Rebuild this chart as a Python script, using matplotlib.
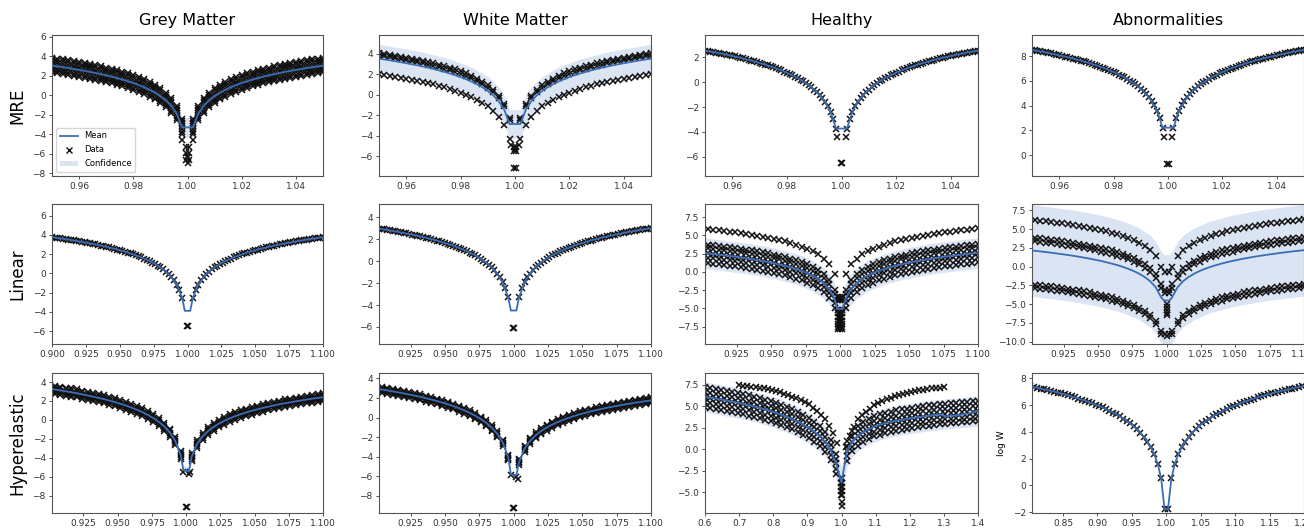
import matplotlib
matplotlib.use("Agg")
import matplotlib.pyplot as plt
from matplotlib.ticker import MultipleLocator
from matplotlib.lines import Line2D
from matplotlib.patches import Patch

plt.rcParams['font.family'] = ['DejaVu Sans']

# ---------------- labels ----------------
COLUMNS = ["Grey Matter", "White Matter", "Healthy", "Abnormalities"]
ROWS = ["MRE", "Linear", "Hyperelastic"]

# ---------------- sample grids: distance of stretch from 1.0 ----------------
D_MRE = [0.002, 0.004, 0.006, 0.008, 0.010, 0.012, 0.014, 0.016, 0.018, 0.020, 0.022, 0.024, 0.026,
         0.028, 0.030, 0.032, 0.034, 0.036, 0.038, 0.040, 0.042, 0.044, 0.046, 0.048, 0.050]
D_MRE_H = [0.003, 0.005, 0.007, 0.009, 0.011, 0.013, 0.015, 0.017, 0.019, 0.021, 0.023, 0.025,
           0.027, 0.029, 0.031, 0.033, 0.035, 0.037, 0.039, 0.041, 0.043, 0.045, 0.047, 0.049]
D_LIN = [0.004, 0.008, 0.012, 0.016, 0.020, 0.024, 0.028, 0.032, 0.036, 0.040, 0.044, 0.048, 0.052,
         0.056, 0.060, 0.064, 0.068, 0.072, 0.076, 0.080, 0.084, 0.088, 0.092, 0.096, 0.100]
D_LIN_H = [0.006, 0.010, 0.014, 0.018, 0.022, 0.026, 0.030, 0.034, 0.038, 0.042, 0.046, 0.050,
           0.054, 0.058, 0.062, 0.066, 0.070, 0.074, 0.078, 0.082, 0.086, 0.090, 0.094, 0.098]
D_HH = [0.016, 0.032, 0.048, 0.064, 0.080, 0.096, 0.112, 0.128, 0.144, 0.160, 0.176, 0.192, 0.208,
        0.224, 0.240, 0.256, 0.272, 0.288, 0.304, 0.320, 0.336, 0.352, 0.368, 0.384, 0.400]
D_HH_TOP = [0.012, 0.024, 0.036, 0.048, 0.060, 0.072, 0.084, 0.096, 0.108, 0.120, 0.132, 0.144, 0.156,
            0.168, 0.180, 0.192, 0.204, 0.216, 0.228, 0.240, 0.252, 0.264, 0.276, 0.288, 0.300]
D_HA = [0.0025, 0.0075, 0.0125, 0.0175, 0.0225, 0.0275, 0.0325, 0.0375, 0.0425, 0.0475,
        0.0525, 0.0575, 0.0625, 0.0675, 0.0725, 0.0775, 0.0825, 0.0875, 0.0925, 0.0975,
        0.1025, 0.1075, 0.1125, 0.1175, 0.1225, 0.1275, 0.1325, 0.1375, 0.1425, 0.1475,
        0.1525, 0.1575, 0.1625, 0.1675, 0.1725, 0.1775, 0.1825, 0.1875, 0.1925, 0.1975]

# ================= MRE row =================
GM_MRE_D1 = [-2.43, -1.08, -0.28, 0.28, 0.71, 1.07, 1.37, 1.63, 1.86, 2.06, 2.25, 2.42, 2.57, 2.72, 2.85, 2.98, 3.10, 3.21, 3.31, 3.41, 3.51, 3.60, 3.69, 3.77, 3.85]
GM_MRE_D2 = [-2.63, -1.28, -0.48, 0.08, 0.51, 0.87, 1.17, 1.43, 1.66, 1.86, 2.05, 2.22, 2.37, 2.52, 2.65, 2.78, 2.90, 3.01, 3.11, 3.21, 3.31, 3.40, 3.49, 3.57, 3.65]
GM_MRE_D3 = [-2.88, -1.53, -0.73, -0.17, 0.26, 0.62, 0.92, 1.18, 1.41, 1.61, 1.80, 1.97, 2.12, 2.27, 2.40, 2.53, 2.65, 2.76, 2.86, 2.96, 3.06, 3.15, 3.24, 3.32, 3.40]
GM_MRE_D4 = [-3.18, -1.83, -1.03, -0.47, -0.04, 0.32, 0.62, 0.88, 1.11, 1.31, 1.50, 1.67, 1.82, 1.97, 2.10, 2.23, 2.35, 2.46, 2.56, 2.66, 2.76, 2.85, 2.94, 3.02, 3.10]
GM_MRE_D5 = [-3.48, -2.13, -1.33, -0.77, -0.34, 0.02, 0.32, 0.58, 0.81, 1.01, 1.20, 1.37, 1.52, 1.67, 1.80, 1.93, 2.05, 2.16, 2.26, 2.36, 2.46, 2.55, 2.64, 2.72, 2.80]
GM_MRE_D6 = [-3.73, -2.38, -1.58, -1.02, -0.59, -0.23, 0.07, 0.33, 0.56, 0.76, 0.95, 1.12, 1.27, 1.42, 1.55, 1.68, 1.80, 1.91, 2.01, 2.11, 2.21, 2.30, 2.39, 2.47, 2.55]
GM_MRE_D7 = [-3.93, -2.58, -1.78, -1.22, -0.79, -0.43, -0.13, 0.13, 0.36, 0.56, 0.75, 0.92, 1.07, 1.22, 1.35, 1.48, 1.60, 1.71, 1.81, 1.91, 2.01, 2.10, 2.19, 2.27, 2.35]
GM_MRE_MEAN = [-3.30, -1.88, -1.08, -0.52, -0.09, 0.27, 0.57, 0.83, 1.06, 1.26, 1.45, 1.62, 1.77, 1.92, 2.05, 2.18, 2.30, 2.41, 2.51, 2.61, 2.71, 2.80, 2.89, 2.97, 3.05]
GM_MRE_CONF_X = [0.95, 0.966, 0.976, 0.984, 0.99, 0.994, 0.996, 0.998, 1.002, 1.004, 1.006, 1.01, 1.016, 1.024, 1.034, 1.05]
GM_MRE_CONF_HI = [3.5, 2.75, 2.07, 1.28, 0.41, -0.48, -1.08, -2.3, -2.3, -1.08, -0.48, 0.41, 1.28, 2.07, 2.75, 3.5]
GM_MRE_CONF_LO = [2.6, 1.85, 1.17, 0.38, -0.59, -1.68, -2.68, -4.3, -4.3, -2.68, -1.68, -0.59, 0.38, 1.17, 1.85, 2.6]
GM_MRE_CX = [0.998, 1.002, 0.9996, 1.0004, 0.9996, 1.0004, 0.9998, 1.0002, 0.9996, 1.0004, 1.0]
GM_MRE_CY = [-4.6, -4.6, -5.3, -5.3, -5.9, -5.9, -6.3, -6.3, -6.7, -6.7, -7.0]

WM_MRE_D1 = [-2.23, -0.88, -0.08, 0.48, 0.91, 1.27, 1.57, 1.83, 2.06, 2.26, 2.45, 2.62, 2.77, 2.92, 3.05, 3.18, 3.30, 3.41, 3.51, 3.61, 3.71, 3.80, 3.89, 3.97, 4.05]
WM_MRE_D2 = [-2.48, -1.13, -0.33, 0.23, 0.66, 1.02, 1.32, 1.58, 1.81, 2.01, 2.20, 2.37, 2.52, 2.67, 2.80, 2.93, 3.05, 3.16, 3.26, 3.36, 3.46, 3.55, 3.64, 3.72, 3.80]
WM_MRE_D3 = [-4.28, -2.93, -2.13, -1.57, -1.14, -0.78, -0.48, -0.22, 0.01, 0.21, 0.40, 0.57, 0.72, 0.87, 1.00, 1.13, 1.25, 1.36, 1.46, 1.56, 1.66, 1.75, 1.84, 1.92, 2.00]
WM_MRE_MEAN = [-2.85, -1.43, -0.63, -0.07, 0.36, 0.72, 1.02, 1.28, 1.51, 1.71, 1.90, 2.07, 2.22, 2.37, 2.50, 2.63, 2.75, 2.86, 2.96, 3.06, 3.16, 3.25, 3.34, 3.42, 3.50]
WM_MRE_CONF_X = [0.95, 0.966, 0.976, 0.984, 0.99, 0.994, 0.996, 0.998, 1.002, 1.004, 1.006, 1.01, 1.016, 1.024, 1.034, 1.05]
WM_MRE_CONF_HI = [4.9, 4.15, 3.47, 2.68, 1.76, 0.77, -0.03, -1.45, -1.45, -0.03, 0.77, 1.76, 2.68, 3.47, 4.15, 4.9]
WM_MRE_CONF_LO = [2.1, 1.35, 0.67, -0.12, -1.04, -2.03, -2.83, -4.25, -4.25, -2.83, -2.03, -1.04, -0.12, 0.67, 1.35, 2.1]
WM_MRE_CX = [0.9985, 1.0015, 0.9997, 1.0003, 1.0, 0.9998, 1.0002, 0.9997, 1.0003]
WM_MRE_CY = [-4.9, -4.9, -5.1, -5.1, -5.3, -5.5, -5.5, -7.1, -7.1]

H_MRE = [-3.73, -2.38, -1.58, -1.02, -0.59, -0.23, 0.07, 0.33, 0.56, 0.76, 0.95, 1.12, 1.27, 1.42, 1.55, 1.68, 1.80, 1.91, 2.01, 2.11, 2.21, 2.30, 2.39, 2.47, 2.55]
H_MRE_H = [-2.94, -1.94, -1.28, -0.79, -0.40, -0.08, 0.20, 0.45, 0.66, 0.86, 1.03, 1.20, 1.35, 1.49, 1.62, 1.74, 1.85, 1.96, 2.07, 2.16, 2.26, 2.35, 2.43, 2.51]
H_MRE_CX = [0.9985, 1.0015, 0.9997, 1.0003]
H_MRE_CY = [-4.4, -4.4, -6.5, -6.5]

A_MRE = [2.22, 3.57, 4.37, 4.93, 5.36, 5.72, 6.02, 6.28, 6.51, 6.71, 6.90, 7.07, 7.22, 7.37, 7.50, 7.63, 7.75, 7.86, 7.96, 8.06, 8.16, 8.25, 8.34, 8.42, 8.50]
A_MRE_H = [3.01, 4.01, 4.67, 5.16, 5.55, 5.87, 6.15, 6.40, 6.61, 6.81, 6.98, 7.15, 7.30, 7.44, 7.57, 7.69, 7.80, 7.91, 8.02, 8.11, 8.21, 8.30, 8.38, 8.46]
A_MRE_CX = [0.9985, 1.0015, 0.9997, 1.0003]
A_MRE_CY = [1.5, 1.5, -0.7, -0.7]

# ================= Linear row =================
INNER_X = [0.998, 1.002]

GM_LIN = [-2.53, -1.18, -0.38, 0.18, 0.61, 0.97, 1.27, 1.53, 1.76, 1.96, 2.15, 2.32, 2.47, 2.62, 2.75, 2.88, 3.00, 3.11, 3.21, 3.31, 3.41, 3.50, 3.59, 3.67, 3.75]
GM_LIN_H = [-1.74, -0.74, -0.08, 0.41, 0.80, 1.12, 1.40, 1.65, 1.86, 2.06, 2.23, 2.40, 2.55, 2.69, 2.82, 2.94, 3.05, 3.16, 3.27, 3.36, 3.46, 3.55, 3.63, 3.71]
GM_LIN_INNER = [-3.9, -3.9]
GM_LIN_CX = [0.9997, 1.0003]
GM_LIN_CY = [-5.5, -5.5]

WM_LIN = [-3.28, -1.93, -1.13, -0.57, -0.14, 0.22, 0.52, 0.78, 1.01, 1.21, 1.40, 1.57, 1.72, 1.87, 2.00, 2.13, 2.25, 2.36, 2.46, 2.56, 2.66, 2.75, 2.84, 2.92, 3.00]
WM_LIN_H = [-2.49, -1.49, -0.83, -0.34, 0.05, 0.37, 0.65, 0.90, 1.11, 1.31, 1.48, 1.65, 1.80, 1.94, 2.07, 2.19, 2.30, 2.41, 2.52, 2.61, 2.71, 2.80, 2.88, 2.96]
WM_LIN_INNER = [-4.5, -4.5]
WM_LIN_CX = [0.9997, 1.0003]
WM_LIN_CY = [-6.1, -6.1]

H_LIN_TOP = [-0.33, 1.02, 1.82, 2.38, 2.81, 3.17, 3.47, 3.73, 3.96, 4.16, 4.35, 4.52, 4.67, 4.82, 4.95, 5.08, 5.20, 5.31, 5.41, 5.51, 5.61, 5.70, 5.79, 5.87, 5.95]
H_LIN_D1 = [-2.48, -1.13, -0.33, 0.23, 0.66, 1.02, 1.32, 1.58, 1.81, 2.01, 2.20, 2.37, 2.52, 2.67, 2.80, 2.93, 3.05, 3.16, 3.26, 3.36, 3.46, 3.55, 3.64, 3.72, 3.80]
H_LIN_D2 = [-2.98, -1.63, -0.83, -0.27, 0.16, 0.52, 0.82, 1.08, 1.31, 1.51, 1.70, 1.87, 2.02, 2.17, 2.30, 2.43, 2.55, 2.66, 2.76, 2.86, 2.96, 3.05, 3.14, 3.22, 3.30]
H_LIN_D3 = [-3.68, -2.33, -1.53, -0.97, -0.54, -0.18, 0.12, 0.38, 0.61, 0.81, 1.00, 1.17, 1.32, 1.47, 1.60, 1.73, 1.85, 1.96, 2.06, 2.16, 2.26, 2.35, 2.44, 2.52, 2.60]
H_LIN_D4 = [-4.28, -2.93, -2.13, -1.57, -1.14, -0.78, -0.48, -0.22, 0.01, 0.21, 0.40, 0.57, 0.72, 0.87, 1.00, 1.13, 1.25, 1.36, 1.46, 1.56, 1.66, 1.75, 1.84, 1.92, 2.00]
H_LIN_D5 = [-4.98, -3.63, -2.83, -2.27, -1.84, -1.48, -1.18, -0.92, -0.69, -0.49, -0.30, -0.13, 0.02, 0.17, 0.30, 0.43, 0.55, 0.66, 0.76, 0.86, 0.96, 1.05, 1.14, 1.22, 1.30]
H_LIN_MEAN = [-3.68, -2.33, -1.53, -0.97, -0.54, -0.18, 0.12, 0.38, 0.61, 0.81, 1.00, 1.17, 1.32, 1.47, 1.60, 1.73, 1.85, 1.96, 2.06, 2.16, 2.26, 2.35, 2.44, 2.52, 2.60]
H_LIN_INNER = [-5.1, -5.1]
LIN_CONF_X = [0.9, 0.932, 0.952, 0.968, 0.98, 0.988, 0.992, 0.996, 0.998,
              1.002, 1.004, 1.008, 1.012, 1.02, 1.032, 1.048, 1.068, 1.1]
H_LIN_CONF_HI = [4.7, 3.95, 3.27, 2.48, 1.56, 0.57, -0.23, -1.58, -3.0, -3.0, -1.58, -0.23, 0.57, 1.56, 2.48, 3.27, 3.95, 4.7]
H_LIN_CONF_LO = [0.5, -0.25, -0.93, -1.72, -2.64, -3.63, -4.43, -5.78, -7.2, -7.2, -5.78, -4.43, -3.63, -2.64, -1.72, -0.93, -0.25, 0.5]
H_LIN_C_COLS = [0.9985, 1.0, 1.0015]
H_LIN_C_ROWS = [-3.4, -3.9, -5.2, -5.7, -6.2, -6.7, -7.2, -7.6, -7.9]

A_LIN_TOP = [0.02, 1.37, 2.17, 2.73, 3.16, 3.52, 3.82, 4.08, 4.31, 4.51, 4.70, 4.87, 5.02, 5.17, 5.30, 5.43, 5.55, 5.66, 5.76, 5.86, 5.96, 6.05, 6.14, 6.22, 6.30]
A_LIN_M1 = [-2.33, -0.98, -0.18, 0.38, 0.81, 1.17, 1.47, 1.73, 1.96, 2.16, 2.35, 2.52, 2.67, 2.82, 2.95, 3.08, 3.20, 3.31, 3.41, 3.51, 3.61, 3.70, 3.79, 3.87, 3.95]
A_LIN_M2 = [-2.83, -1.48, -0.68, -0.12, 0.31, 0.67, 0.97, 1.23, 1.46, 1.66, 1.85, 2.02, 2.17, 2.32, 2.45, 2.58, 2.70, 2.81, 2.91, 3.01, 3.11, 3.20, 3.29, 3.37, 3.45]
A_LIN_B1 = [-8.58, -7.23, -6.43, -5.87, -5.44, -5.08, -4.78, -4.52, -4.29, -4.09, -3.90, -3.73, -3.58, -3.43, -3.30, -3.17, -3.05, -2.94, -2.84, -2.74, -2.64, -2.55, -2.46, -2.38, -2.30]
A_LIN_B2 = [-9.03, -7.68, -6.88, -6.32, -5.89, -5.53, -5.23, -4.97, -4.74, -4.54, -4.35, -4.18, -4.03, -3.88, -3.75, -3.62, -3.50, -3.39, -3.29, -3.19, -3.09, -3.00, -2.91, -2.83, -2.75]
A_LIN_MEAN = [-4.08, -2.73, -1.93, -1.37, -0.94, -0.58, -0.28, -0.02, 0.21, 0.41, 0.60, 0.77, 0.92, 1.07, 1.20, 1.33, 1.45, 1.56, 1.66, 1.76, 1.86, 1.95, 2.04, 2.12, 2.20]
A_LIN_INNER = [-4.5, -4.5]
A_LIN_CONF_HI = [8.3, 7.55, 6.87, 6.08, 5.16, 4.17, 3.37, 2.02, 1.6, 1.6, 2.02, 3.37, 4.17, 5.16, 6.08, 6.87, 7.55, 8.3]
A_LIN_CONF_LO = [-3.9, -4.65, -5.33, -6.12, -7.04, -8.03, -8.83, -10.18, -10.6, -10.6, -10.18, -8.83, -8.03, -7.04, -6.12, -5.33, -4.65, -3.9]
A_LIN_CX = [0.9985, 1.0015, 0.9985, 1.0015, 0.9985, 1.0015, 1.0, 1.0, 1.0, 1.0, 1.0, 0.9985, 1.0015, 1.0]
A_LIN_CY = [-0.7, -0.7, -3.1, -3.1, -3.5, -3.5, -5.0, -5.4, -5.8, -6.2, -6.5, -9.0, -9.0, -9.3]

# ================= Hyperelastic row =================
HG_L1 = [-3.29, -1.78, -0.90, -0.28, 0.21, 0.60, 0.94, 1.23, 1.48, 1.71, 1.92, 2.11, 2.28, 2.44, 2.59, 2.73, 2.86, 2.99, 3.10, 3.22, 3.32, 3.42, 3.52, 3.61, 3.70]
HG_L2 = [-3.49, -1.98, -1.10, -0.48, 0.01, 0.40, 0.74, 1.03, 1.28, 1.51, 1.72, 1.91, 2.08, 2.24, 2.39, 2.53, 2.66, 2.79, 2.90, 3.02, 3.12, 3.22, 3.32, 3.41, 3.50]
HG_L3 = [-3.74, -2.23, -1.35, -0.73, -0.24, 0.15, 0.49, 0.78, 1.03, 1.26, 1.47, 1.66, 1.83, 1.99, 2.14, 2.28, 2.41, 2.54, 2.65, 2.77, 2.87, 2.97, 3.07, 3.16, 3.25]
HG_L4 = [-3.94, -2.43, -1.55, -0.93, -0.44, -0.05, 0.29, 0.58, 0.83, 1.06, 1.27, 1.46, 1.63, 1.79, 1.94, 2.08, 2.21, 2.34, 2.45, 2.57, 2.67, 2.77, 2.87, 2.96, 3.05]
HG_L5 = [-4.14, -2.63, -1.75, -1.13, -0.64, -0.25, 0.09, 0.38, 0.63, 0.86, 1.07, 1.26, 1.43, 1.59, 1.74, 1.88, 2.01, 2.14, 2.25, 2.37, 2.47, 2.57, 2.67, 2.76, 2.85]
HG_R1 = [-3.48, -2.13, -1.33, -0.77, -0.34, 0.02, 0.32, 0.58, 0.81, 1.01, 1.20, 1.37, 1.52, 1.67, 1.80, 1.93, 2.05, 2.16, 2.26, 2.36, 2.46, 2.55, 2.64, 2.72, 2.80]
HG_R2 = [-3.68, -2.33, -1.53, -0.97, -0.54, -0.18, 0.12, 0.38, 0.61, 0.81, 1.00, 1.17, 1.32, 1.47, 1.60, 1.73, 1.85, 1.96, 2.06, 2.16, 2.26, 2.35, 2.44, 2.52, 2.60]
HG_R3 = [-3.88, -2.53, -1.73, -1.17, -0.74, -0.38, -0.08, 0.18, 0.41, 0.61, 0.80, 0.97, 1.12, 1.27, 1.40, 1.53, 1.65, 1.76, 1.86, 1.96, 2.06, 2.15, 2.24, 2.32, 2.40]
HG_R4 = [-4.08, -2.73, -1.93, -1.37, -0.94, -0.58, -0.28, -0.02, 0.21, 0.41, 0.60, 0.77, 0.92, 1.07, 1.20, 1.33, 1.45, 1.56, 1.66, 1.76, 1.86, 1.95, 2.04, 2.12, 2.20]
HG_R5 = [-4.28, -2.93, -2.13, -1.57, -1.14, -0.78, -0.48, -0.22, 0.01, 0.21, 0.40, 0.57, 0.72, 0.87, 1.00, 1.13, 1.25, 1.36, 1.46, 1.56, 1.66, 1.75, 1.84, 1.92, 2.00]
HG_MEAN_L = [-3.69, -2.18, -1.30, -0.68, -0.19, 0.20, 0.54, 0.83, 1.08, 1.31, 1.52, 1.71, 1.88, 2.04, 2.19, 2.33, 2.46, 2.59, 2.70, 2.82, 2.92, 3.02, 3.12, 3.21, 3.30]
HG_MEAN_R = [-3.88, -2.53, -1.73, -1.17, -0.74, -0.38, -0.08, 0.18, 0.41, 0.61, 0.80, 0.97, 1.12, 1.27, 1.40, 1.53, 1.65, 1.76, 1.86, 1.96, 2.06, 2.15, 2.24, 2.32, 2.40]
HG_INNER = [-5.3, -5.4]
HG_CONF_HI = [3.6, 2.76, 2.01, 1.13, 0.11, -1.0, -1.88, -3.39, -4.8, -4.9, -3.58, -2.23, -1.43, -0.44, 0.48, 1.27, 1.95, 2.7]
HG_CONF_LO = [3.0, 2.16, 1.41, 0.53, -0.49, -1.6, -2.48, -3.99, -5.8, -5.9, -4.18, -2.83, -2.03, -1.04, -0.12, 0.67, 1.35, 2.1]
HG_CX = [0.998, 1.002, 1.003, 0.9997, 1.0003]
HG_CY = [-5.5, -5.7, -5.5, -9.2, -9.2]

HW_L1 = [-3.79, -2.28, -1.40, -0.78, -0.29, 0.10, 0.44, 0.73, 0.98, 1.21, 1.42, 1.61, 1.78, 1.94, 2.09, 2.23, 2.36, 2.49, 2.60, 2.72, 2.82, 2.92, 3.02, 3.11, 3.20]
HW_L2 = [-3.94, -2.43, -1.55, -0.93, -0.44, -0.05, 0.29, 0.58, 0.83, 1.06, 1.27, 1.46, 1.63, 1.79, 1.94, 2.08, 2.21, 2.34, 2.45, 2.57, 2.67, 2.77, 2.87, 2.96, 3.05]
HW_L3 = [-4.09, -2.58, -1.70, -1.08, -0.59, -0.20, 0.14, 0.43, 0.68, 0.91, 1.12, 1.31, 1.48, 1.64, 1.79, 1.93, 2.06, 2.19, 2.30, 2.42, 2.52, 2.62, 2.72, 2.81, 2.90]
HW_L4 = [-4.24, -2.73, -1.85, -1.23, -0.74, -0.35, -0.01, 0.28, 0.53, 0.76, 0.97, 1.16, 1.33, 1.49, 1.64, 1.78, 1.91, 2.04, 2.15, 2.27, 2.37, 2.47, 2.57, 2.66, 2.75]
HW_L5 = [-4.39, -2.88, -2.00, -1.38, -0.89, -0.50, -0.16, 0.13, 0.38, 0.61, 0.82, 1.01, 1.18, 1.34, 1.49, 1.63, 1.76, 1.89, 2.00, 2.12, 2.22, 2.32, 2.42, 2.51, 2.60]
HW_R1 = [-4.23, -2.88, -2.08, -1.52, -1.09, -0.73, -0.43, -0.17, 0.06, 0.26, 0.45, 0.62, 0.77, 0.92, 1.05, 1.18, 1.30, 1.41, 1.51, 1.61, 1.71, 1.80, 1.89, 1.97, 2.05]
HW_R2 = [-4.38, -3.03, -2.23, -1.67, -1.24, -0.88, -0.58, -0.32, -0.09, 0.11, 0.30, 0.47, 0.62, 0.77, 0.90, 1.03, 1.15, 1.26, 1.36, 1.46, 1.56, 1.65, 1.74, 1.82, 1.90]
HW_R3 = [-4.53, -3.18, -2.38, -1.82, -1.39, -1.03, -0.73, -0.47, -0.24, -0.04, 0.15, 0.32, 0.47, 0.62, 0.75, 0.88, 1.00, 1.11, 1.21, 1.31, 1.41, 1.50, 1.59, 1.67, 1.75]
HW_R4 = [-4.68, -3.33, -2.53, -1.97, -1.54, -1.18, -0.88, -0.62, -0.39, -0.19, 0.00, 0.17, 0.32, 0.47, 0.60, 0.73, 0.85, 0.96, 1.06, 1.16, 1.26, 1.35, 1.44, 1.52, 1.60]
HW_R5 = [-4.83, -3.48, -2.68, -2.12, -1.69, -1.33, -1.03, -0.77, -0.54, -0.34, -0.15, 0.02, 0.17, 0.32, 0.45, 0.58, 0.70, 0.81, 0.91, 1.01, 1.11, 1.20, 1.29, 1.37, 1.45]
HW_MEAN_L = [-4.04, -2.53, -1.65, -1.03, -0.54, -0.15, 0.19, 0.48, 0.73, 0.96, 1.17, 1.36, 1.53, 1.69, 1.84, 1.98, 2.11, 2.24, 2.35, 2.47, 2.57, 2.67, 2.77, 2.86, 2.95]
HW_MEAN_R = [-4.53, -3.18, -2.38, -1.82, -1.39, -1.03, -0.73, -0.47, -0.24, -0.04, 0.15, 0.32, 0.47, 0.62, 0.75, 0.88, 1.00, 1.11, 1.21, 1.31, 1.41, 1.50, 1.59, 1.67, 1.75]
HW_INNER = [-5.8, -5.9]
HW_CX = [0.998, 1.002, 1.003, 0.9997, 1.0003]
HW_CY = [-5.9, -6.1, -6.3, -9.2, -9.2]

HH_L_A = [-0.52, 1.08, 2.01, 2.67, 3.19, 3.61, 3.99, 4.33, 4.63, 4.90, 5.14, 5.36, 5.57, 5.76, 5.93, 6.10, 6.25, 6.40, 6.54, 6.67, 6.79, 6.91, 7.02, 7.13, 7.23]
HH_L_B = [-1.12, 0.48, 1.41, 2.07, 2.59, 3.01, 3.39, 3.73, 4.03, 4.30, 4.54, 4.76, 4.97, 5.16, 5.33, 5.50, 5.65, 5.80, 5.94, 6.07, 6.19, 6.31, 6.42, 6.53, 6.63]
HH_L_C = [-1.67, -0.07, 0.86, 1.52, 2.04, 2.46, 2.84, 3.18, 3.48, 3.75, 3.99, 4.21, 4.42, 4.61, 4.78, 4.95, 5.10, 5.25, 5.39, 5.52, 5.64, 5.76, 5.87, 5.98, 6.08]
HH_L_D = [-2.27, -0.67, 0.26, 0.92, 1.44, 1.86, 2.24, 2.58, 2.88, 3.15, 3.39, 3.61, 3.82, 4.01, 4.18, 4.35, 4.50, 4.65, 4.79, 4.92, 5.04, 5.16, 5.27, 5.38, 5.48]
HH_L_E = [-2.87, -1.27, -0.34, 0.32, 0.84, 1.26, 1.64, 1.98, 2.28, 2.55, 2.79, 3.01, 3.22, 3.41, 3.58, 3.75, 3.90, 4.05, 4.19, 4.32, 4.44, 4.56, 4.67, 4.78, 4.88]
HH_R_A = [0.97, 2.08, 2.73, 3.19, 3.54, 3.83, 4.04, 4.21, 4.36, 4.49, 4.61, 4.72, 4.82, 4.91, 4.99, 5.08, 5.15, 5.22, 5.29, 5.35, 5.41, 5.47, 5.52, 5.57, 5.62]
HH_R_B = [0.37, 1.48, 2.13, 2.59, 2.94, 3.23, 3.44, 3.61, 3.76, 3.89, 4.01, 4.12, 4.22, 4.31, 4.39, 4.48, 4.55, 4.62, 4.69, 4.75, 4.81, 4.87, 4.92, 4.97, 5.02]
HH_R_C = [-0.23, 0.88, 1.53, 1.99, 2.34, 2.63, 2.84, 3.01, 3.16, 3.29, 3.41, 3.52, 3.62, 3.71, 3.79, 3.88, 3.95, 4.02, 4.09, 4.15, 4.21, 4.27, 4.32, 4.37, 4.42]
HH_R_D = [-0.83, 0.28, 0.93, 1.39, 1.74, 2.03, 2.24, 2.41, 2.56, 2.69, 2.81, 2.92, 3.02, 3.11, 3.19, 3.28, 3.35, 3.42, 3.49, 3.55, 3.61, 3.67, 3.72, 3.77, 3.82]
HH_R_E = [-1.38, -0.27, 0.38, 0.84, 1.19, 1.48, 1.69, 1.86, 2.01, 2.14, 2.26, 2.37, 2.47, 2.56, 2.64, 2.73, 2.80, 2.87, 2.94, 3.00, 3.06, 3.12, 3.17, 3.22, 3.27]
HH_TOP_L = [0.7, 1.9, 2.7, 3.5, 4.0, 4.4, 4.8, 5.2, 5.45, 5.7, 5.9, 6.1, 6.3, 6.45, 6.6, 6.8, 6.9, 7.0, 7.05, 7.1, 7.2, 7.25, 7.3, 7.35, 7.4]
HH_TOP_R = [0.3, 1.5, 2.6, 3.5, 3.95, 4.35, 4.7, 5.1, 5.35, 5.6, 5.8, 6.0, 6.15, 6.3, 6.45, 6.55, 6.65, 6.75, 6.85, 6.9, 7.0, 7.05, 7.1, 7.15, 7.2]
HH_MEAN_L = [-1.67, -0.07, 0.86, 1.52, 2.04, 2.46, 2.84, 3.18, 3.48, 3.75, 3.99, 4.21, 4.42, 4.61, 4.78, 4.95, 5.10, 5.25, 5.39, 5.52, 5.64, 5.76, 5.87, 5.98, 6.08]
HH_MEAN_R = [-0.23, 0.88, 1.53, 1.99, 2.34, 2.63, 2.84, 3.01, 3.16, 3.29, 3.41, 3.52, 3.62, 3.71, 3.79, 3.88, 3.95, 4.02, 3.82, 3.86, 3.92, 4.00, 4.12, 4.26, 4.42]
HH_INNER_X = [1.0]
HH_INNER_Y = [-3.9]
HH_CONF_X = [0.6, 0.728, 0.808, 0.872, 0.92, 0.952, 0.968, 0.984, 1.0,
             1.016, 1.032, 1.048, 1.08, 1.128, 1.192, 1.272, 1.4]
HH_CONF_HI = [7.83, 6.85, 5.96, 4.93, 3.79, 2.61, 1.68, 0.08, -2.1, 1.52, 2.63, 3.28, 4.09, 4.76, 5.27, 5.7, 6.17]
HH_CONF_LO = [4.33, 3.35, 2.46, 1.43, 0.29, -0.89, -1.82, -3.42, -5.7, -1.98, -0.87, -0.22, 0.59, 1.26, 1.77, 2.2, 2.67]
HH_CX = [0.998, 1.002, 0.998, 1.002, 0.998, 1.002, 0.998, 1.002, 0.998, 1.002, 1.0, 1.0]
HH_CY = [-3.4, -3.4, -3.9, -3.9, -4.4, -4.4, -4.9, -4.9, -5.3, -5.3, -6.1, -6.6]

HA = [-1.77, 0.54, 1.61, 2.32, 2.85, 3.27, 3.62, 3.92, 4.18, 4.42, 4.63, 4.82, 4.99, 5.15, 5.30,
      5.44, 5.58, 5.70, 5.82, 5.93, 6.03, 6.13, 6.23, 6.32, 6.41, 6.49, 6.57, 6.65, 6.72, 6.80,
      6.87, 6.93, 7.00, 7.06, 7.12, 7.18, 7.24, 7.30, 7.35, 7.41]

# ---------------- helpers ----------------
def both(d, left, right=None):
    right = left if right is None else right
    xs = [1 - v for v in d[::-1]] + [1 + v for v in d]
    ys = list(left[::-1]) + list(right)
    return xs, ys


def with_inner(xy, ix, iy):
    xs, ys = xy
    n = len(xs) // 2
    return xs[:n] + list(ix) + xs[n:], ys[:n] + list(iy) + ys[n:]


BLUE = '#3a6db5'
CONF = '#dae4f2'
MK = dict(ls='none', marker='x', color='#111111', ms=4.3, mew=1.1)


def draw(ax, bands, mean, conf=None, center=None):
    if conf is not None:
        ax.fill_between(conf[0], conf[1], conf[2], color=CONF, lw=0, zorder=1)
    for bx, by in bands:
        ax.plot(bx, by, zorder=2, **MK)
    if center is not None:
        ax.plot(center[0], center[1], zorder=2, **MK)
    ax.plot(mean[0], mean[1], color=BLUE, lw=1.3, zorder=3)


# ---------------- figure layout ----------------
W, H = 1304, 528
fig = plt.figure(figsize=(W / 100, H / 100), dpi=100)
COL_L = [52, 379, 705, 1032]
COL_W = [271, 272, 273, 272]
ROW_T = [35, 204, 373]
ROW_H = [141, 140, 140]

axes = [[fig.add_axes([COL_L[c] / W, 1 - (ROW_T[r] + ROW_H[r]) / H, COL_W[c] / W, ROW_H[r] / H])
         for c in range(4)] for r in range(3)]

# ---- MRE ----
draw(axes[0][0], [both(D_MRE, b) for b in (GM_MRE_D1, GM_MRE_D2, GM_MRE_D3, GM_MRE_D4,
                                           GM_MRE_D5, GM_MRE_D6, GM_MRE_D7)],
     both(D_MRE, GM_MRE_MEAN), (GM_MRE_CONF_X, GM_MRE_CONF_LO, GM_MRE_CONF_HI), (GM_MRE_CX, GM_MRE_CY))
draw(axes[0][1], [both(D_MRE, b) for b in (WM_MRE_D1, WM_MRE_D2, WM_MRE_D3)],
     both(D_MRE, WM_MRE_MEAN), (WM_MRE_CONF_X, WM_MRE_CONF_LO, WM_MRE_CONF_HI), (WM_MRE_CX, WM_MRE_CY))
draw(axes[0][2], [both(D_MRE, H_MRE), both(D_MRE_H, H_MRE_H)], both(D_MRE, H_MRE), None, (H_MRE_CX, H_MRE_CY))
draw(axes[0][3], [both(D_MRE, A_MRE), both(D_MRE_H, A_MRE_H)], both(D_MRE, A_MRE), None, (A_MRE_CX, A_MRE_CY))

# ---- Linear ----
draw(axes[1][0], [both(D_LIN, GM_LIN), both(D_LIN_H, GM_LIN_H)],
     with_inner(both(D_LIN, GM_LIN), INNER_X, GM_LIN_INNER), None, (GM_LIN_CX, GM_LIN_CY))
draw(axes[1][1], [both(D_LIN, WM_LIN), both(D_LIN_H, WM_LIN_H)],
     with_inner(both(D_LIN, WM_LIN), INNER_X, WM_LIN_INNER), None, (WM_LIN_CX, WM_LIN_CY))
hcx = [cx for cy in H_LIN_C_ROWS for cx in H_LIN_C_COLS]
hcy = [cy for cy in H_LIN_C_ROWS for cx in H_LIN_C_COLS]
draw(axes[1][2], [both(D_LIN, b) for b in (H_LIN_TOP, H_LIN_D1, H_LIN_D2, H_LIN_D3, H_LIN_D4, H_LIN_D5)],
     with_inner(both(D_LIN, H_LIN_MEAN), INNER_X, H_LIN_INNER),
     (LIN_CONF_X, H_LIN_CONF_LO, H_LIN_CONF_HI), (hcx, hcy))
draw(axes[1][3], [both(D_LIN, b) for b in (A_LIN_TOP, A_LIN_M1, A_LIN_M2, A_LIN_B1, A_LIN_B2)],
     with_inner(both(D_LIN, A_LIN_MEAN), INNER_X, A_LIN_INNER),
     (LIN_CONF_X, A_LIN_CONF_LO, A_LIN_CONF_HI), (A_LIN_CX, A_LIN_CY))

# ---- Hyperelastic ----
draw(axes[2][0], [both(D_LIN, l, r) for l, r in ((HG_L1, HG_R1), (HG_L2, HG_R2), (HG_L3, HG_R3),
                                                 (HG_L4, HG_R4), (HG_L5, HG_R5))],
     with_inner(both(D_LIN, HG_MEAN_L, HG_MEAN_R), INNER_X, HG_INNER),
     (LIN_CONF_X, HG_CONF_LO, HG_CONF_HI), (HG_CX, HG_CY))
draw(axes[2][1], [both(D_LIN, l, r) for l, r in ((HW_L1, HW_R1), (HW_L2, HW_R2), (HW_L3, HW_R3),
                                                 (HW_L4, HW_R4), (HW_L5, HW_R5))],
     with_inner(both(D_LIN, HW_MEAN_L, HW_MEAN_R), INNER_X, HW_INNER), None, (HW_CX, HW_CY))
draw(axes[2][2], [both(D_HH, l, r) for l, r in ((HH_L_A, HH_R_A), (HH_L_B, HH_R_B), (HH_L_C, HH_R_C),
                                                (HH_L_D, HH_R_D), (HH_L_E, HH_R_E))]
     + [both(D_HH_TOP, HH_TOP_L, HH_TOP_R)],
     with_inner(both(D_HH, HH_MEAN_L, HH_MEAN_R), HH_INNER_X, HH_INNER_Y),
     (HH_CONF_X, HH_CONF_LO, HH_CONF_HI), (HH_CX, HH_CY))
draw(axes[2][3], [both(D_HA, HA)], both(D_HA, HA))

# ---------------- axes limits / ticks ----------------
XLIM = [[(0.95, 1.05)] * 4,
        [(0.9, 1.1), (0.902, 1.1), (0.902, 1.1), (0.902, 1.1)],
        [(0.902, 1.1), (0.902, 1.1), (0.6, 1.4), (0.805, 1.2)]]
XSTEP = [[0.02] * 4, [0.025] * 4, [0.025, 0.025, 0.1, 0.05]]
YLIM = [[(-8.3, 6.2), (-7.9, 5.8), (-7.55, 3.8), (-1.68, 9.7)],
        [(-7.35, 7.2), (-7.55, 5.2), (-9.9, 9.3), (-10.3, 8.35)],
        [(-9.8, 4.95), (-9.76, 4.55), (-7.43, 8.85), (-2.07, 8.4)]]
YSTEP = [[2, 2, 2, 2], [2, 2, 2.5, 2.5], [2, 2, 2.5, 2]]

for r in range(3):
    for c in range(4):
        ax = axes[r][c]
        ax.set_xlim(*XLIM[r][c])
        ax.set_ylim(*YLIM[r][c])
        ax.xaxis.set_major_locator(MultipleLocator(XSTEP[r][c]))
        ax.yaxis.set_major_locator(MultipleLocator(YSTEP[r][c]))
        ax.tick_params(labelsize=6.5, length=2.5, width=0.6, pad=2, colors='#333333')
        for s in ax.spines.values():
            s.set_color('#555555')
            s.set_linewidth(0.8)
        if r == 0:
            ax.set_title(COLUMNS[c], fontsize=11.5, pad=7)

for r, name in enumerate(ROWS):
    fig.text(17 / W, 1 - (ROW_T[r] + ROW_H[r] / 2) / H, name, rotation=90,
             ha='center', va='center', fontsize=12)

axes[2][3].set_ylabel('log W', fontsize=6.5, labelpad=5)

handles = [Line2D([], [], color=BLUE, lw=1.3, label='Mean'),
           Line2D([], [], ls='none', marker='x', color='#111111', ms=4, mew=1, label='Data'),
           Patch(facecolor=CONF, edgecolor='none', label='Confidence')]
axes[0][0].legend(handles=handles, loc='lower left', fontsize=6, frameon=True,
                  borderaxespad=0.5, handlelength=2.2, labelspacing=0.6)

fig.savefig('out.png', dpi=100)
